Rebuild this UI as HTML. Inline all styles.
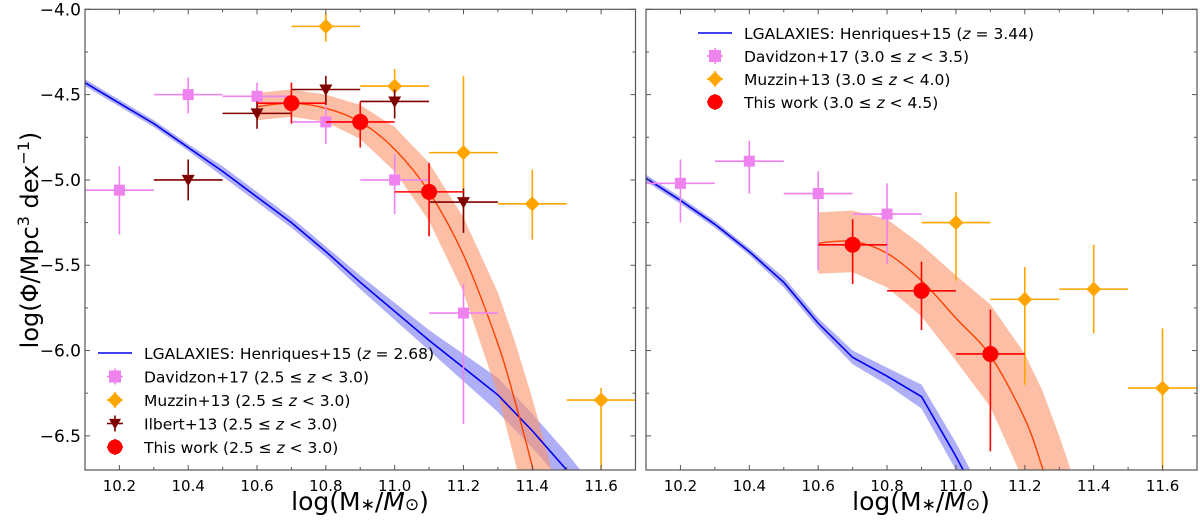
<!DOCTYPE html>
<html><head><meta charset="utf-8">
<style>
html,body{margin:0;padding:0;background:#fff;overflow:hidden;width:1200px;height:525px;}
svg{display:block;font-family:"DejaVu Sans","Liberation Sans",sans-serif;}
</style></head>
<body>
<svg id="chart" width="1200" height="525" viewBox="0 0 1200 525" xmlns="http://www.w3.org/2000/svg">
<defs>
<clipPath id="clipL"><rect x="85" y="9.3" width="550.5" height="460.7"/></clipPath>
<clipPath id="clipR"><rect x="646" y="9.3" width="551" height="460.7"/></clipPath>
</defs>
<g id="gL"></g>
<g id="gR"></g>
<text transform="translate(38,240) rotate(-90)" text-anchor="middle" font-size="24">log(Φ/Mpc<tspan font-size="16" dy="-9">3</tspan><tspan dy="9"> dex</tspan><tspan font-size="16" dy="-9">−1</tspan><tspan dy="9">)</tspan></text>
<text x="360" y="510" text-anchor="middle" font-size="25">log(M<tspan font-size="17">∗</tspan>/<tspan font-style="italic">M</tspan><tspan font-size="17">⊙</tspan>)</text>
<text x="921" y="510" text-anchor="middle" font-size="25">log(M<tspan font-size="17">∗</tspan>/<tspan font-style="italic">M</tspan><tspan font-size="17">⊙</tspan>)</text>
</svg>
<script>
// ---- Left panel data (2.5 <= z < 3.0) ----
const modelXL = [10.1,10.2,10.3,10.4,10.5,10.6,10.7,10.8,10.9,11.0,11.1,11.2,11.3,11.4,11.5,11.6];
const modelYL = [-4.43,-4.55,-4.67,-4.81,-4.95,-5.10,-5.25,-5.42,-5.60,-5.77,-5.94,-6.10,-6.26,-6.47,-6.70,-6.95];
const modelErrL = [0.02,0.02,0.02,0.02,0.03,0.03,0.03,0.03,0.04,0.05,0.06,0.08,0.10,0.10,0.10,0.10];
const fitXL = [10.6,10.7,10.8,10.9,11.0,11.1,11.2,11.3,11.35,11.4,11.45,11.5];
const fitYL = [-4.57,-4.55,-4.58,-4.66,-4.82,-5.07,-5.44,-5.96,-6.30,-6.68,-7.1,-7.6];
const fitErrL = [0.08,0.08,0.08,0.10,0.13,0.17,0.22,0.30,0.35,0.40,0.45,0.5];
const davXL = [10.2,10.4,10.6,10.8,11.0,11.2];
const davYL = [-5.06,-4.50,-4.51,-4.66,-5.00,-5.78];
const davUpL = [0.14,0.10,0.08,0.09,0.15,0.17];
const davDnL = [0.26,0.11,0.07,0.13,0.20,0.65];
const muzXL = [10.8,11.0,11.2,11.4,11.6];
const muzYL = [-4.10,-4.45,-4.84,-5.14,-6.29];
const muzUpL = [0.08,0.10,0.45,0.20,0.07];
const muzDnL = [0.09,0.10,0.42,0.21,0.5];
const ilbXL = [10.4,10.6,10.8,11.0,11.2];
const ilbYL = [-5.00,-4.61,-4.47,-4.54,-5.13];
const ilbUpL = [0.12,0.07,0.08,0.07,0.08];
const ilbDnL = [0.12,0.09,0.09,0.10,0.18];
const ourXL = [10.7,10.9,11.1];
const ourYL = [-4.55,-4.66,-5.07];
const ourUpL = [0.12,0.12,0.17];
const ourDnL = [0.12,0.15,0.26];
// ---- Right panel data (3.0 <= z < 4.5) ----
const modelXR = [10.1,10.2,10.3,10.4,10.5,10.6,10.7,10.8,10.9,11.0,11.1];
const modelYR = [-4.99,-5.12,-5.26,-5.42,-5.60,-5.84,-6.04,-6.15,-6.27,-6.62,-7.0];
const modelErrR = [0.02,0.02,0.02,0.02,0.03,0.03,0.04,0.05,0.07,0.08,0.08];
const fitXR = [10.6,10.7,10.8,10.9,11.0,11.1,11.2,11.25,11.3,11.35,11.4];
const fitYR = [-5.37,-5.36,-5.43,-5.59,-5.81,-6.03,-6.40,-6.68,-7.0,-7.35,-7.7];
const fitErrR = [0.18,0.18,0.20,0.21,0.25,0.30,0.38,0.45,0.5,0.55,0.6];
const davXR = [10.2,10.4,10.6,10.8];
const davYR = [-5.02,-4.89,-5.08,-5.20];
const davUpR = [0.14,0.12,0.13,0.18];
const davDnR = [0.23,0.19,0.45,0.29];
const muzXR = [11.0,11.2,11.4,11.6];
const muzYR = [-5.25,-5.70,-5.64,-6.22];
const muzUpR = [0.18,0.19,0.26,0.35];
const muzDnR = [0.34,0.50,0.26,0.5];
const ourXR = [10.7,10.9,11.1];
const ourYR = [-5.38,-5.65,-6.02];
const ourUpR = [0.15,0.17,0.26];
const ourDnR = [0.23,0.23,0.57];
const xTicks = [10.2,10.4,10.6,10.8,11.0,11.2,11.4,11.6];
const xTickLabels = ["10.2","10.4","10.6","10.8","11.0","11.2","11.4","11.6"];
const yTicks = [-4.0,-4.5,-5.0,-5.5,-6.0,-6.5];
const yTickLabels = ["−4.0","−4.5","−5.0","−5.5","−6.0","−6.5"];
const legendL = ["LGALAXIES: Henriques+15 (", "Davidzon+17 (2.5 ≤ ", "Muzzin+13 (2.5 ≤ ", "Ilbert+13 (2.5 ≤ ", "This work (2.5 ≤ "];
const legendR = ["LGALAXIES: Henriques+15 (", "Davidzon+17 (3.0 ≤ ", "Muzzin+13 (3.0 ≤ ", "This work (3.0 ≤ "];

const NS = "http://www.w3.org/2000/svg";
const X0 = 10.1, X1 = 11.7, Y0 = -4.0, Y1 = -6.7;
function mk(tag, attrs, parent){ const e=document.createElementNS(NS,tag); for(const k in attrs) e.setAttribute(k,attrs[k]); parent.appendChild(e); return e; }
function makeAxes(left, right){ return { sx: v => left + (v-X0)/(X1-X0)*(right-left), sy: v => 9.3 + (Y0-v)/(Y0-Y1)*(470-9.3), left, right }; }
const axL = makeAxes(85, 635.5), axR = makeAxes(646, 1197);

function band(g, ax, xs, ys, es, fill, clip, name){
  let pts = xs.map((x,i)=>ax.sx(x)+","+ax.sy(ys[i]+es[i]));
  pts = pts.concat(xs.map((x,i)=>ax.sx(x)+","+ax.sy(ys[i]-es[i])).reverse());
  const p = mk("polygon",{points:pts.join(" "),fill:fill,"clip-path":clip},g);
  
  
}
function line(g, ax, xs, ys, color, w, clip, name){
  const p = mk("polyline",{points:xs.map((x,i)=>ax.sx(x)+","+ax.sy(ys[i])).join(" "),fill:"none",stroke:color,"stroke-width":w,"clip-path":clip},g);
  
  
}
function smoothLine(g, ax, xs, ys, color, w, clip, name){
  let d = "M"+ax.sx(xs[0])+","+ax.sy(ys[0]);
  for(let i=0;i<xs.length-1;i++){
    const p0=[ax.sx(xs[Math.max(0,i-1)]),ax.sy(ys[Math.max(0,i-1)])], p1=[ax.sx(xs[i]),ax.sy(ys[i])], p2=[ax.sx(xs[i+1]),ax.sy(ys[i+1])], p3=[ax.sx(xs[Math.min(xs.length-1,i+2)]),ax.sy(ys[Math.min(xs.length-1,i+2)])];
    d += " C"+(p1[0]+(p2[0]-p0[0])/6)+","+(p1[1]+(p2[1]-p0[1])/6)+" "+(p2[0]-(p3[0]-p1[0])/6)+","+(p2[1]-(p3[1]-p1[1])/6)+" "+p2[0]+","+p2[1];
  }
  const p = mk("path",{d:d,fill:"none",stroke:color,"stroke-width":w,"clip-path":clip},g);
  
  
}
function marker(g, type, cx, cy, color, size){
  let e;
  if(type==="square") e = mk("rect",{x:cx-size/2,y:cy-size/2,width:size,height:size,fill:color},g);
  else if(type==="diamond") e = mk("polygon",{points:`${cx},${cy-size/2} ${cx+size/2},${cy} ${cx},${cy+size/2} ${cx-size/2},${cy}`,fill:color},g);
  else if(type==="tri") e = mk("polygon",{points:`${cx-size/2},${cy-size/2.6} ${cx+size/2},${cy-size/2.6} ${cx},${cy+size/2}`,fill:color},g);
  else e = mk("circle",{cx:cx,cy:cy,r:size/2,fill:color},g);
  return e;
}
function points(g, ax, xs, ys, up, dn, color, type, size, clip, name){
  xs.forEach((x,i)=>{
    const gg = mk("g",{"clip-path":clip},g);
    
    
    const cx=ax.sx(x), cy=ax.sy(ys[i]);
    mk("line",{x1:ax.sx(x-0.1),x2:ax.sx(x+0.1),y1:cy,y2:cy,stroke:color,"stroke-width":1.6},gg);
    mk("line",{x1:cx,x2:cx,y1:ax.sy(ys[i]+up[i]),y2:ax.sy(ys[i]-dn[i]),stroke:color,"stroke-width":1.6},gg);
    marker(gg,type,cx,cy,color,size);
  });
}
function frame(g, ax, labels){
  const L=ax.left, R=ax.right, T=9.3, B=470;
  const f = mk("rect",{x:L,y:T,width:R-L,height:B-T,fill:"none",stroke:"#555","stroke-width":1.2},g);
  
  
  for(let v=10.1; v<=11.701; v+=0.1){
    const x=ax.sx(v), major = Math.abs(Math.round(v*10)%2)===0, len = major?5:3;
    mk("line",{x1:x,x2:x,y1:B,y2:B-len,stroke:"#555"},g);
    mk("line",{x1:x,x2:x,y1:T,y2:T+len,stroke:"#555"},g);
  }
  for(let v=-4.0; v>=-6.701; v-=0.25){
    const y=ax.sy(v), major = Math.abs(Math.round(v*100)%50)===0, len = major?5:3;
    mk("line",{x1:L,x2:L+len,y1:y,y2:y,stroke:"#555"},g);
    mk("line",{x1:R,x2:R-len,y1:y,y2:y,stroke:"#555"},g);
  }
  xTicks.forEach((v,i)=>{
    const t = mk("text",{x:ax.sx(v),y:491,"text-anchor":"middle","font-size":15},g);
    t.textContent = xTickLabels[i];
    
    
  });
  if(labels) yTicks.forEach((v,i)=>{
    const t = mk("text",{x:L-4,y:ax.sy(v)+6,"text-anchor":"end","font-size":17},g);
    t.textContent = yTickLabels[i];
    
    
  });
}
function legend(g, x, y0, dy, entries, types, colors, tail){
  entries.forEach((s,i)=>{
    const y = y0 + i*dy;
    const lg = mk("g",{},g);
    
    
    if(types[i]==="line") mk("line",{x1:x-17,x2:x+17,y1:y,y2:y,stroke:colors[i],"stroke-width":1.6},lg);
    else {
      mk("line",{x1:x-8,x2:x+8,y1:y,y2:y,stroke:colors[i],"stroke-width":1.6},lg);
      mk("line",{x1:x,x2:x,y1:y-8,y2:y+8,stroke:colors[i],"stroke-width":1.6},lg);
      marker(lg,types[i],x,y,colors[i],types[i]==="circle"?15:(types[i]==="diamond"?15:12));
    }
    const t = mk("text",{x:x+29,y:y+6,"font-size":15.5},lg);
    t.textContent = s;
    const z = mk("tspan",{"font-style":"italic"},t); z.textContent="z";
    const r = mk("tspan",{},t); r.textContent = tail[i];
  });
}

// Left panel
const gL = document.getElementById("gL");
band(gL, axL, modelXL, modelYL, modelErrL, "rgba(110,110,240,0.55)", "url(#clipL)", "model-band-left");
band(gL, axL, fitXL, fitYL, fitErrL, "rgba(250,150,110,0.62)", "url(#clipL)", "fit-band-left");
line(gL, axL, modelXL, modelYL, "#0000ee", 1.6, "url(#clipL)", "model-line-left");
smoothLine(gL, axL, fitXL, fitYL, "#ff4000", 1.4, "url(#clipL)", "fit-line-left");
points(gL, axL, davXL, davYL, davUpL, davDnL, "#ee82ee", "square", 11, "url(#clipL)", "davidzon-left");
points(gL, axL, muzXL, muzYL, muzUpL, muzDnL, "#ffa500", "diamond", 15, "url(#clipL)", "muzzin-left");
points(gL, axL, ilbXL, ilbYL, ilbUpL, ilbDnL, "#800000", "tri", 13, "url(#clipL)", "ilbert-left");
points(gL, axL, ourXL, ourYL, ourUpL, ourDnL, "#ff0000", "circle", 16, "url(#clipL)", "this-work-left");
frame(gL, axL, true);
legend(gL, 115, 353, 23.5, legendL, ["line","square","diamond","tri","circle"], ["#0000ee","#ee82ee","#ffa500","#800000","#ff0000"], [" = 2.68)"," < 3.0)"," < 3.0)"," < 3.0)"," < 3.0)"]);

// Right panel
const gR = document.getElementById("gR");
band(gR, axR, modelXR, modelYR, modelErrR, "rgba(110,110,240,0.55)", "url(#clipR)", "model-band-right");
band(gR, axR, fitXR, fitYR, fitErrR, "rgba(250,150,110,0.62)", "url(#clipR)", "fit-band-right");
line(gR, axR, modelXR, modelYR, "#0000ee", 1.6, "url(#clipR)", "model-line-right");
smoothLine(gR, axR, fitXR, fitYR, "#ff4000", 1.4, "url(#clipR)", "fit-line-right");
points(gR, axR, davXR, davYR, davUpR, davDnR, "#ee82ee", "square", 11, "url(#clipR)", "davidzon-right");
points(gR, axR, muzXR, muzYR, muzUpR, muzDnR, "#ffa500", "diamond", 15, "url(#clipR)", "muzzin-right");
points(gR, axR, ourXR, ourYR, ourUpR, ourDnR, "#ff0000", "circle", 16, "url(#clipR)", "this-work-right");
frame(gR, axR, false);
legend(gR, 715, 33, 23, legendR, ["line","square","diamond","circle"], ["#0000ee","#ee82ee","#ffa500","#ff0000"], [" = 3.44)"," < 3.5)"," < 4.0)"," < 4.5)"]);
</script>
</body></html>
